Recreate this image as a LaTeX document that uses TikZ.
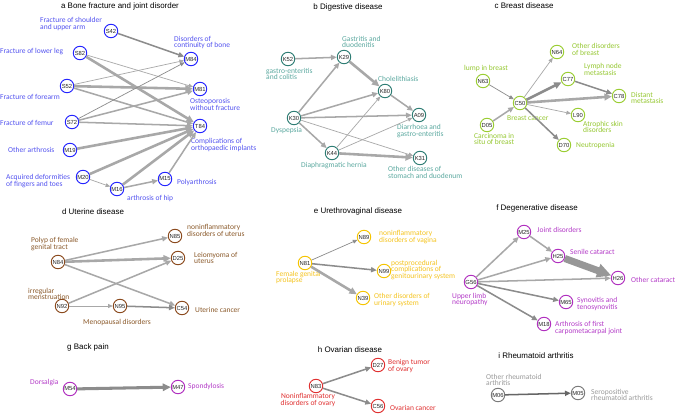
\documentclass[tikz,border=0pt]{standalone}
\usepackage{fontspec}
\setmainfont{Carlito}
\newfontfamily\arialf{Liberation Sans}
\usepackage{tikz}
\usetikzlibrary{arrows.meta,positioning}
\definecolor{edgec}{HTML}{A8A8A8}
\definecolor{edged}{HTML}{8C8C8C}
\definecolor{acirc}{HTML}{2424FF}
\definecolor{alab}{HTML}{5454F0}
\definecolor{bcirc}{HTML}{2E7D74}
\definecolor{blab}{HTML}{5CA9A0}
\definecolor{ccirc}{HTML}{9ACD32}
\definecolor{clab}{HTML}{96C832}
\definecolor{dcirc}{HTML}{8B4A1E}
\definecolor{dlab}{HTML}{8B5A2B}
\definecolor{ecirc}{HTML}{F5C400}
\definecolor{elab}{HTML}{F5C420}
\definecolor{fcirc}{HTML}{B02FBF}
\definecolor{flab}{HTML}{B43CC8}
\definecolor{hcirc}{HTML}{E03030}
\definecolor{icirc}{HTML}{7A7A7A}
\definecolor{ilab}{HTML}{9A9A9A}
\tikzset{
  ed/.style={-{Triangle[length=3pt 1.5,width=2.4pt 1.5]},draw=edgec,line width=0.8pt},
  thn/.style={line width=0.6pt},
  med/.style={line width=1.3pt},
  thk/.style={line width=2.2pt},
  nd/.style={circle,draw,line width=0.8pt,fill=white,minimum size=11.5pt,inner sep=0pt,font=\arialf\fontsize{5}{5}\selectfont,text=black!85},
  lab/.style={font=\fontsize{6.4}{5.8}\selectfont,align=left,inner sep=0pt,anchor=west},
  ttl/.style={font=\arialf\fontsize{6.8}{7}\selectfont,inner sep=0pt}
}
\begin{document}
\begin{tikzpicture}[x=0.3mm,y=-0.3mm]
\useasboundingbox[fill=white] (0,0) rectangle (677,416);
\node[ttl] (ta) at (120,6) {a Bone fracture and joint disorder};
\node[ttl] (tb) at (348,7) {b Digestive disease};
\node[ttl] (tc) at (524,6) {c Breast disease};
\node[ttl] (td) at (93,212) {d Uterine disease};
\node[ttl] (te) at (358,211) {e Urethrovaginal disease};
\node[ttl] (tf) at (537,208) {f Degenerative disease};
\node[ttl] (tg) at (88,347) {g Back pain};
\node[ttl] (th) at (350,350) {h Ovarian disease};
\node[ttl] (ti) at (536,356) {i Rheumatoid arthritis};

\begin{scope}[nd/.append style={draw=acirc},lab/.append style={text=alab}]
\node[nd] (S42) at (111,31) {S42};
\node[nd] (S82) at (80,53) {S82};
\node[nd] (S52) at (67,86) {S52};
\node[nd] (S72) at (72,122) {S72};
\node[nd] (M19) at (70,150) {M19};
\node[nd] (M84) at (191,59) {M84};
\node[nd] (M81) at (200,89) {M81};
\node[nd] (T84) at (200,126) {T84};
\node[nd] (M20) at (83,177) {M20};
\node[nd] (M16) at (117,189) {M16};
\node[nd] (M15) at (165,179) {M15};
\node[lab] (lS42) at (40,24) {Fracture of shoulder\\and upper arm};
\node[lab] (lS82) at (0,52) {Fracture of lower leg};
\node[lab] (lS52) at (0,97) {Fracture of forearm};
\node[lab] (lS72) at (0,123) {Fracture of femur};
\node[lab] (lM19) at (8,150) {Other arthrosis};
\node[lab] (lM20) at (6,181) {Acquired deformities\\of fingers and toes};
\node[lab] (lM16) at (127,198) {arthrosis of hip};
\node[lab] (lM15) at (177,182) {Polyarthrosis};
\node[lab] (lM84) at (174,42.5) {Disorders of\\continuity of bone};
\node[lab] (lM81) at (190,104.5) {Osteoporosis\\without fracture};
\node[lab] (lT84) at (191,145) {Complications of\\orthopaedic implants};
\end{scope}
\draw[ed,med,draw=edged] (S42) -- (M84);
\draw[ed,thn] (S82) -- (M81);
\draw[ed,thk] (S82) -- (T84);
\draw[ed,thn] (S52) -- (M84);
\draw[ed,thk] (S52) -- (M81);
\draw[ed,med] (S52) -- (T84);
\draw[ed,thn,draw=edged] (S72) -- (M84);
\draw[ed,med] (S72) -- (M81);
\draw[ed,med] (S72) -- (T84);
\draw[ed,thk] (M19) -- (T84);
\draw[ed,thk] (M20) -- (T84);
\draw[ed,thn] (M20) -- (M16);
\draw[ed,thk] (M16) -- (T84);
\draw[ed,med] (M16) -- (M15);
\draw[ed,med] (M15) -- (T84);

\begin{scope}[nd/.append style={draw=bcirc},lab/.append style={text=blab}]
\node[nd] (K52) at (288,59) {K52};
\node[nd] (K29) at (344,57) {K29};
\node[nd] (K80) at (385,91) {K80};
\node[nd] (A09) at (419,115) {A09};
\node[nd] (K30) at (294,118) {K30};
\node[nd] (K44) at (332,153) {K44};
\node[nd] (K31) at (420,158) {K31};
\node[lab] (lK52) at (266,74) {gastro-enteritis\\and colitis};
\node[lab] (lK29) at (342,42) {Gastritis and\\duodenitis};
\node[lab] (lK80) at (378,79) {Cholelithiasis};
\node[lab] (lA09) at (397,131) {Diarrhoea and\\gastro-enteritis};
\node[lab] (lK30) at (271,131) {Dyspepsia};
\node[lab] (lK44) at (301,166) {Diaphragmatic hernia};
\node[lab] (lK31) at (388,172.5) {Other diseases of\\stomach and duodenum};
\end{scope}
\draw[ed,med] (K52) -- (K29);
\draw[ed,thk] (K29) -- (K80);
\draw[ed,med] (K80) -- (A09);
\draw[ed,med] (K30) -- (K29);
\draw[ed,med] (K30) -- (K80);
\draw[ed,med] (K30) -- (A09);
\draw[ed,thn] (K30) -- (K31);
\draw[ed,med] (K30) -- (K44);
\draw[ed,thn] (K44) -- (K80);
\draw[ed,thn] (K44) -- (A09);
\draw[ed,thk] (K44) -- (K31);

\begin{scope}[nd/.append style={draw=ccirc},lab/.append style={text=clab}]
\node[nd] (N64) at (557,52) {N64};
\node[nd] (C77) at (568,79) {C77};
\node[nd] (C78) at (619,96) {C78};
\node[nd] (C50) at (520,103) {C50};
\node[nd] (N63) at (483,81) {N63};
\node[nd] (L90) at (578,115) {L90};
\node[nd] (D05) at (487,125) {D05};
\node[nd] (D70) at (564,145) {D70};
\node[lab] (lN64) at (572,49.5) {Other disorders\\of breast};
\node[lab] (lC77) at (584,69.5) {Lymph node\\metastasis};
\node[lab] (lC78) at (631,98) {Distant\\metastasis};
\node[lab] (lN63) at (464,69) {lump in breast};
\node[lab] (lC50) at (507,118) {Breast cancer};
\node[lab] (lL90) at (583,127) {Atrophic skin\\disorders};
\node[lab] (lD05) at (474,139) {Carcinoma in\\situ of breast};
\node[lab] (lD70) at (576,146) {Neutropenia};
\end{scope}
\draw[ed,thn,draw=edged] (N63) -- (C50);
\draw[ed,med] (D05) -- (C50);
\draw[ed,thn] (C50) -- (N64);
\draw[ed,thk,draw=edged] (C50) -- (C77);
\draw[ed,thk] (C50) -- (C78);
\draw[ed,med,draw=edged] (C77) -- (C78);
\draw[ed,thn] (C50) -- (L90);
\draw[ed,med,draw=edged] (C50) -- (D70);

\begin{scope}[nd/.append style={draw=dcirc},lab/.append style={text=dlab}]
\node[nd] (N85) at (175,236) {N85};
\node[nd] (D25) at (178,258) {D25};
\node[nd] (N84) at (58,262) {N84};
\node[nd] (N92) at (62,306) {N92};
\node[nd] (N95) at (120,306) {N95};
\node[nd] (C54) at (182,308) {C54};
\node[lab] (lN84) at (31,244) {Polyp of female\\genital tract};
\node[lab] (lN85) at (187,230.5) {noninflammatory\\disorders of uterus};
\node[lab] (lD25) at (194,258) {Leiomyoma of\\uterus};
\node[lab] (lN92) at (28,294) {irregular\\menstruation};
\node[lab] (lC54) at (195,310) {Uterine cancer};
\node[lab] (lN95) at (83,322) {Menopausal disorders};
\end{scope}
\draw[ed,med] (N84) -- (N85);
\draw[ed,thk] (N84) -- (D25);
\draw[ed,med] (N84) -- (C54);
\draw[ed,med] (N92) -- (D25);
\draw[ed,thn] (N92) -- (N95);
\draw[ed,med,draw=edged] (N95) -- (C54);

\begin{scope}[nd/.append style={draw=ecirc},lab/.append style={text=elab}]
\node[nd] (N89) at (364,237) {N89};
\node[nd] (N81) at (305,263) {N81};
\node[nd] (N99) at (384,271) {N99};
\node[nd] (N39) at (363,298) {N39};
\node[lab] (lN89) at (379,237) {noninflammatory\\disorders of vagina};
\node[lab] (lN81) at (276,277.5) {Female genital\\prolapse};
\node[lab] (lN99) at (391,270) {postprocedural\\complications of\\genitourinary system};
\node[lab] (lN39) at (374,300) {Other disorders of\\urinary system};
\end{scope}
\draw[ed,thn,draw=edged] (N81) -- (N89);
\draw[ed,med,draw=edged] (N81) -- (N99);
\draw[ed,thk] (N81) -- (N39);

\begin{scope}[nd/.append style={draw=fcirc},lab/.append style={text=flab}]
\node[nd] (M25) at (524,232) {M25};
\node[nd] (H25) at (558,256) {H25};
\node[nd] (H26) at (618,278) {H26};
\node[nd] (G56) at (471,282) {G56};
\node[nd] (M65) at (566,302) {M65};
\node[nd] (M18) at (544,324) {M18};
\node[lab] (lM25) at (537,230) {Joint disorders};
\node[lab] (lH25) at (570,252) {Senile cataract};
\node[lab] (lH26) at (631,280) {Other cataract};
\node[lab] (lG56) at (452,299.5) {Upper limb\\neuropathy};
\node[lab] (lM65) at (577,304) {Synovitis and\\tenosynovitis};
\node[lab] (lM18) at (555,328) {Arthrosis of first\\carpometacarpal joint};
\node[nd] (M54) at (70,389) {M54};
\node[nd] (M47) at (178,387) {M47};
\node[lab] (lM54) at (30,383) {Dorsalgia};
\node[lab] (lM47) at (188,386) {Spondylosis};
\end{scope}
\draw[ed,med] (G56) -- (M25);
\draw[ed,med] (M25) -- (H25);
\draw[ed,med] (G56) -- (H25);
\draw[ed,line width=6pt,draw=edgec!90!black] (H25) -- (H26);
\draw[ed,med] (G56) -- (H26);
\draw[ed,med,draw=edged] (G56) -- (M65);
\draw[ed,med,draw=edged] (G56) -- (M18);
\draw[ed,line width=2.6pt,draw=edged] (M54) -- (M47);

\begin{scope}[nd/.append style={draw=hcirc},lab/.append style={text=hcirc}]
\node[nd] (D27) at (378,365) {D27};
\node[nd] (N83) at (316,386) {N83};
\node[nd] (C56) at (378,406) {C56};
\node[lab] (lD27) at (388,366) {Benign tumor\\of ovary};
\node[lab,anchor=center,align=center] (lN83) at (308,400) {Noninflammatory\\disorders of ovary};
\node[lab] (lC56) at (390,408) {Ovarian cancer};
\end{scope}
\draw[ed,med,draw=edged] (N83) -- (D27);
\draw[ed,med,draw=edged] (N83) -- (C56);

\begin{scope}[nd/.append style={draw=icirc},lab/.append style={text=ilab}]
\node[nd] (M06) at (498,395) {M06};
\node[nd] (M05) at (578,393) {M05};
\node[lab] (lM06) at (486,380) {Other rheumatoid\\arthritis};
\node[lab] (lM05) at (591,395) {Seropositive\\rheumatoid arthritis};
\end{scope}
\draw[ed,med,draw=black!60] (M06) -- (M05);
\end{tikzpicture}
\end{document}
